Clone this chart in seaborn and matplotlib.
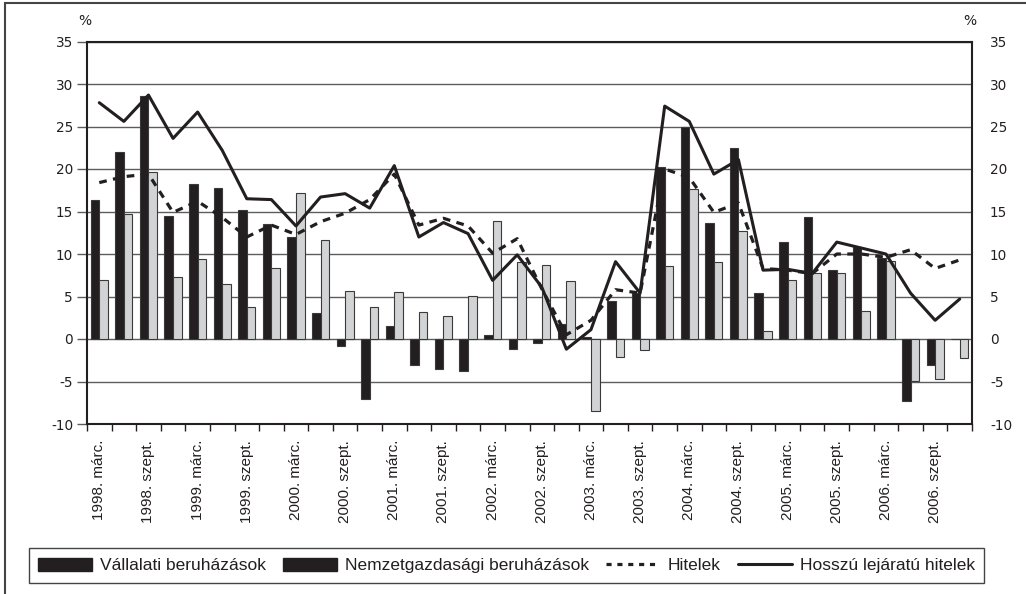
import numpy as np
import pandas as pd
import matplotlib
matplotlib.use("Agg")
import matplotlib.pyplot as plt
from matplotlib.patches import Patch, Rectangle
from matplotlib.lines import Line2D
import seaborn as sns

# ---------------- data ----------------
years = list(range(1998, 2007))
months = ["márc.", "jún.", "szept.", "dec."]
quarters = [f"{y}. {m}" for y in years for m in months]

vallalati = [16.3, 22.0, 28.6, 14.5, 18.2, 17.8, 15.2, 13.5, 12.0, 3.1,
             -0.8, -7.0, 1.5, -3.0, -3.5, -3.8, 0.5, -1.2, -0.5, 1.8,
             0.2, 4.5, 5.4, 20.2, 25.0, 13.6, 22.5, 5.4, 11.4, 14.4,
             8.1, 10.8, 9.5, -7.3, -3.1, 0.0]
nemzetgazd = [6.9, 14.7, 19.7, 7.3, 9.4, 6.5, 3.8, 8.4, 17.2, 11.6,
              5.7, 3.8, 5.5, 3.2, 2.7, 5.1, 13.9, 9.1, 8.7, 6.8,
              -8.5, -2.1, -1.3, 8.6, 17.6, 9.1, 12.7, 1.0, 7.0, 7.8,
              7.8, 3.3, 9.2, -4.9, -4.7, -2.2]
hitelek = [18.4, 19.1, 19.4, 14.9, 16.2, 14.3, 12.0, 13.4, 12.3, 13.8,
           14.8, 16.4, 19.4, 13.4, 14.2, 13.3, 10.1, 11.8, 5.9, 0.5,
           2.2, 5.8, 5.4, 20.0, 19.0, 14.9, 16.0, 8.3, 8.1, 7.7,
           10.0, 10.0, 9.6, 10.5, 8.3, 9.3]
hosszu = [27.8, 25.6, 28.7, 23.6, 26.7, 22.2, 16.5, 16.4, 13.3, 16.7,
          17.1, 15.4, 20.4, 12.0, 13.7, 12.4, 6.9, 9.9, 6.1, -1.2,
          1.1, 9.1, 5.4, 27.4, 25.6, 19.4, 21.1, 8.1, 8.2, 7.7,
          11.4, 10.7, 10.0, 5.4, 2.2, 4.7]

series_names = ["Vállalati beruházások", "Nemzetgazdasági beruházások",
                "Hitelek", "Hosszú lejáratú hitelek"]
yticks = list(range(-10, 36, 5))

# ---------------- style ----------------
sns.set_style("white")
plt.rcParams["font.family"] = ["DejaVu Sans"]
plt.rcParams["axes.unicode_minus"] = False
DARK = "#231f20"
GRAY = "#d1d3d4"
GRID = "#5c5c5c"

W, H = 1026, 594
fig = plt.figure(figsize=(W / 100, H / 100), dpi=100)
ax = fig.add_axes([87 / W, 1 - 424 / H, (972 - 87) / W, (424 - 41.5) / H])

df = pd.DataFrame({
    "quarter": quarters * 2,
    "value": vallalati + nemzetgazd,
    "series": [series_names[0]] * len(quarters) + [series_names[1]] * len(quarters),
})
sns.barplot(data=df, x="quarter", y="value", hue="series", order=quarters,
            hue_order=series_names[:2], palette=[DARK, GRAY], width=0.7,
            saturation=1, dodge=True, legend=False, ax=ax,
            linewidth=0.8, edgecolor="#3a3a3a", errorbar=None)

xpos = np.arange(len(quarters))
sns.lineplot(x=xpos, y=hitelek, ax=ax, color=DARK, lw=2.3,
             linestyle=(0, (2.4, 2.0)), legend=False)
sns.lineplot(x=xpos, y=hosszu, ax=ax, color=DARK, lw=2.2, legend=False)

ax.set_xlim(-0.5, len(quarters) - 0.5)
ax.set_ylim(-10, 35)
ax.set_xlabel("")
ax.set_ylabel("")

# grid
ax.set_yticks(yticks)
ax.yaxis.grid(True, color=GRID, lw=1.0)
ax.xaxis.grid(False)
ax.set_axisbelow(True)

for s in ax.spines.values():
    s.set_color(DARK)
    s.set_linewidth(1.5)
    s.set_visible(True)

# x ticks
shown = list(range(0, len(quarters), 2))
ax.set_xticks(shown)
ax.set_xticklabels([quarters[i] for i in shown], rotation=90,
                   fontfamily="Liberation Sans", fontsize=11, color=DARK)
ax.tick_params(axis="x", which="major", length=0, pad=11.5)
ax.set_xticks(np.arange(-0.5, len(quarters), 1), minor=True)
ax.tick_params(axis="x", which="minor", length=5, width=1, color=DARK,
               direction="out", bottom=True)

# left y ticks
ax.tick_params(axis="y", which="major", left=True, length=7, width=1,
               color=GRID, direction="out", pad=3, labelsize=9.8,
               labelcolor=DARK)

# right y labels
ax2 = ax.twinx()
ax2.set_ylim(-10, 35)
ax2.set_yticks(yticks)
ax2.tick_params(axis="y", length=0, pad=13, labelsize=9.8, labelcolor=DARK)
for s in ax2.spines.values():
    s.set_visible(False)
ax2.grid(False)

# % labels
fig.text(85 / W, 1 - 21 / H, "%", ha="center", va="center", fontsize=10, color=DARK)
fig.text(970 / W, 1 - 21 / H, "%", ha="center", va="center", fontsize=10, color=DARK)

# legend
handles = [
    Patch(facecolor=DARK, edgecolor=DARK),
    Patch(facecolor=DARK, edgecolor=DARK),
    Line2D([0], [0], color=DARK, lw=2.3, linestyle=(0, (1.6, 1.8))),
    Line2D([0], [0], color=DARK, lw=2.2),
]
leg = fig.legend(handles, series_names, loc="center",
                 bbox_to_anchor=((25 + 988) / 2 / W, 1 - 565.5 / H),
                 ncol=4, frameon=True, fancybox=False, framealpha=1,
                 edgecolor="#444444", handlelength=3.1, handleheight=0.75,
                 handletextpad=0.45, columnspacing=1.0, borderpad=0.55,
                 prop={"family": "Liberation Sans", "size": 12.5})
leg.get_frame().set_linewidth(1.0)
for t in leg.get_texts():
    t.set_color(DARK)

# outer frame
fig.patches.append(Rectangle((5 / W, -0.05), 1.2, 1 - 3 / H + 0.05,
                             transform=fig.transFigure, fill=False,
                             edgecolor="#444444", lw=1.5))

fig.savefig("out.png", dpi=100)
